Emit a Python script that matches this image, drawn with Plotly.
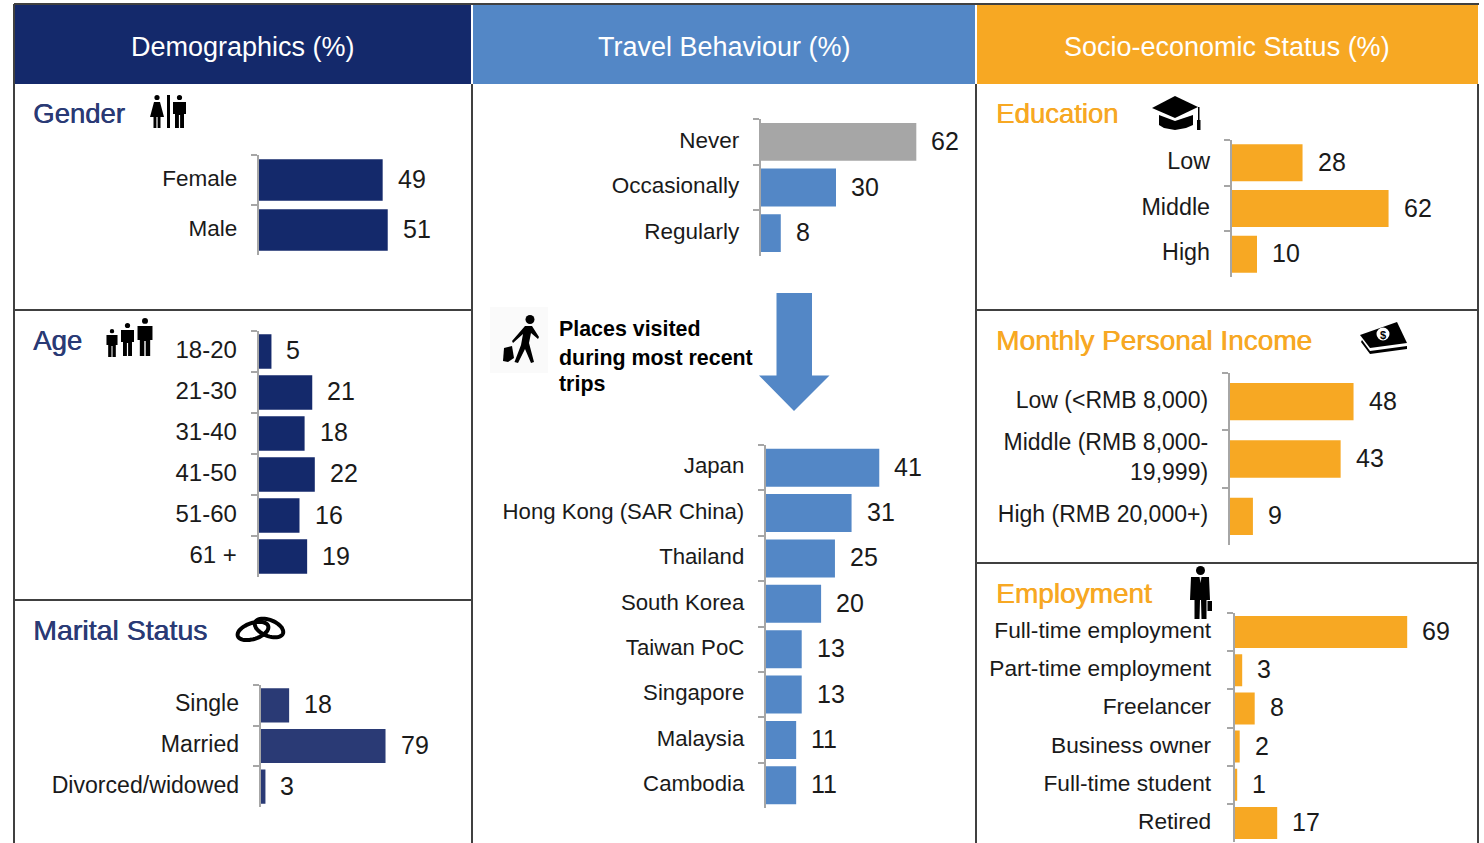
import math
import plotly.graph_objects as go

W, H = 1484, 843
FONT = "Liberation Sans"
NAVY = "#14296B"
NAVY2 = "#2A3A75"
BLUE = "#5387C6"
ORANGE = "#F7A823"
GREY = "#A6A6A6"
FRAME = "#404040"

GENDER_CATS = ["Female", "Male"]
GENDER_VALS = [49, 51]
AGE_CATS = ["18-20", "21-30", "31-40", "41-50", "51-60", "61 +"]
AGE_VALS = [5, 21, 18, 22, 16, 19]
MARITAL_CATS = ["Single", "Married", "Divorced/widowed"]
MARITAL_VALS = [18, 79, 3]
TRAVEL_CATS = ["Never", "Occasionally", "Regularly"]
TRAVEL_VALS = [62, 30, 8]
PLACE_CATS = ["Japan", "Hong Kong (SAR China)", "Thailand", "South Korea",
              "Taiwan PoC", "Singapore", "Malaysia", "Cambodia"]
PLACE_VALS = [41, 31, 25, 20, 13, 13, 11, 11]
EDU_CATS = ["Low", "Middle", "High"]
EDU_VALS = [28, 62, 10]
INCOME_CATS = ["Low (<RMB 8,000)", "Middle (RMB 8,000-<br>19,999)", "High (RMB 20,000+)"]
INCOME_VALS = [48, 43, 9]
JOB_CATS = ["Full-time employment", "Part-time employment", "Freelancer",
            "Business owner", "Full-time student", "Retired"]
JOB_VALS = [69, 3, 8, 2, 1, 17]

fig = go.Figure()
layout_axes = {}
annotations = []
shapes = []
n_axes = 1


def add_panel(cats, vals, color, x0, x1, ppu, top, bottom, bar=0.84, standoff=15, lab_size=22.5):
    """One bar panel, placed by pixel box, on its own pair of axes."""
    global n_axes
    n_axes += 1
    n = n_axes
    colors = color if isinstance(color, list) else [color] * len(cats)
    fig.add_trace(go.Bar(
        x=vals, y=cats, orientation="h", width=bar, marker=dict(color=colors, line=dict(width=0)),
        xaxis=f"x{n}", yaxis=f"y{n}", showlegend=False, hoverinfo="x+y",
    ))
    layout_axes[f"xaxis{n}"] = dict(
        domain=[x0 / W, x1 / W], range=[0, (x1 - x0) / ppu], visible=False,
        anchor=f"y{n}", fixedrange=True,
    )
    layout_axes[f"yaxis{n}"] = dict(
        domain=[1 - bottom / H, 1 - top / H], range=[len(cats) - 0.5, -0.5],
        type="category", categoryorder="array", categoryarray=cats,
        anchor=f"x{n}", tickson="boundaries", ticks="outside", ticklen=6,
        tickwidth=2, tickcolor=GREY, showline=True, linecolor=GREY, linewidth=2,
        showgrid=False, zeroline=False, ticklabelstandoff=standoff, ticklabelshift=2,
        tickfont=dict(family=FONT, size=lab_size, color="#1a1a1a"), fixedrange=True,
    )
    for c, v in zip(cats, vals):
        annotations.append(dict(
            x=v, y=c, xref=f"x{n}", yref=f"y{n}", text=str(v), showarrow=False,
            xanchor="left", xshift=13, yshift=1, font=dict(family=FONT, size=25, color="#1a1a1a"),
        ))


# overlay axes in pixel units, used only for frame, headers and icons
fig.add_trace(go.Scatter(x=[0], y=[0], mode="markers", marker=dict(opacity=0),
                         showlegend=False, hoverinfo="skip"))
layout_axes["xaxis"] = dict(domain=[0, 1], range=[0, W], visible=False, fixedrange=True)
layout_axes["yaxis"] = dict(domain=[0, 1], range=[H, 0], visible=False, fixedrange=True)


def rect(x0, y0, x1, y1, color):
    shapes.append(dict(type="rect", x0=x0, y0=y0, x1=x1, y1=y1, xref="x", yref="y",
                       fillcolor=color, line=dict(width=0), layer="above"))


def line(x0, y0, x1, y1, color=FRAME, width=2):
    shapes.append(dict(type="line", x0=x0, y0=y0, x1=x1, y1=y1, xref="x", yref="y",
                       line=dict(color=color, width=width), layer="above"))


def poly(points, color="black"):
    path = "M " + " L ".join(f"{x},{y}" for x, y in points) + " Z"
    shapes.append(dict(type="path", path=path, xref="x", yref="y",
                       fillcolor=color, line=dict(width=0), layer="above"))


def disc(cx, cy, r, color="black"):
    shapes.append(dict(type="circle", x0=cx - r, y0=cy - r, x1=cx + r, y1=cy + r,
                       xref="x", yref="y", fillcolor=color, line=dict(width=0), layer="above"))


def ring(cx, cy, rx, ry, angle, width):
    a = math.radians(angle)
    pts = []
    for i in range(49):
        t = 2 * math.pi * i / 48
        ex, ey = rx * math.cos(t), ry * math.sin(t)
        pts.append((cx + ex * math.cos(a) - ey * math.sin(a),
                    cy + ex * math.sin(a) + ey * math.cos(a)))
    path = "M " + " L ".join(f"{x:.1f},{y:.1f}" for x, y in pts) + " Z"
    shapes.append(dict(type="path", path=path, xref="x", yref="y",
                       line=dict(color="black", width=width), layer="above"))


def man(cx, top, h):
    u = h / 33
    disc(cx, top + 2.5 * u, 2.6 * u)
    poly([(cx - 6.5 * u, top + 7 * u), (cx + 6.5 * u, top + 7 * u), (cx + 6.5 * u, top + 19 * u),
          (cx + 4.5 * u, top + 19 * u), (cx + 4.5 * u, top + 33 * u), (cx + 0.6 * u, top + 33 * u),
          (cx + 0.6 * u, top + 20 * u), (cx - 0.6 * u, top + 20 * u), (cx - 0.6 * u, top + 33 * u),
          (cx - 4.5 * u, top + 33 * u), (cx - 4.5 * u, top + 19 * u), (cx - 6.5 * u, top + 19 * u)])


def woman(cx, top, h):
    u = h / 33
    disc(cx, top + 2.5 * u, 2.6 * u)
    poly([(cx - 3 * u, top + 7 * u), (cx + 3 * u, top + 7 * u), (cx + 7 * u, top + 22 * u),
          (cx + 3.5 * u, top + 22 * u), (cx + 3.5 * u, top + 33 * u), (cx + 0.6 * u, top + 33 * u),
          (cx + 0.6 * u, top + 22 * u), (cx - 0.6 * u, top + 22 * u), (cx - 0.6 * u, top + 33 * u),
          (cx - 3.5 * u, top + 33 * u), (cx - 3.5 * u, top + 22 * u), (cx - 7 * u, top + 22 * u)])


def label(x, y, text, size, color="#1a1a1a", xanchor="left", bold=False, heavy=False):
    font = dict(family=FONT, size=size, color=color)
    if heavy:
        font["shadow"] = f"0.6px 0 0 {color}"
    annotations.append(dict(x=x, y=y, xref="x", yref="y", text=f"<b>{text}</b>" if bold else text,
                            showarrow=False, xanchor=xanchor, yanchor="middle", font=font))


add_panel(GENDER_CATS, GENDER_VALS, NAVY, 258.7, 468, 2.53, 155, 255, bar=0.83)
add_panel(AGE_CATS, AGE_VALS, NAVY, 258.7, 468, 2.55, 331, 577, lab_size=24)
add_panel(MARITAL_CATS, MARITAL_VALS, NAVY2, 260.7, 468, 1.58, 685, 807, lab_size=23.1)
add_panel(TRAVEL_CATS, TRAVEL_VALS, [GREY, BLUE, BLUE], 760.7, 972, 2.51, 119, 256, bar=0.83)
add_panel(PLACE_CATS, PLACE_VALS, BLUE, 765.7, 972, 2.77, 445, 808, lab_size=22.2)
add_panel(EDU_CATS, EDU_VALS, ORANGE, 1231.7, 1475, 2.53, 140, 277, bar=0.81, lab_size=23.3)
add_panel(INCOME_CATS, INCOME_VALS, ORANGE, 1229.7, 1475, 2.58, 373, 545, bar=0.65, standoff=15, lab_size=23)
add_panel(JOB_CATS, JOB_VALS, ORANGE, 1234.7, 1475, 2.5, 613, 842, standoff=17, lab_size=22.7)

# headers
rect(14, 5, 471, 84, NAVY)
rect(473, 5, 975, 84, BLUE)
rect(977, 5, 1478, 84, ORANGE)
label(243, 47, "Demographics (%)", 27, "white", "center")
label(724, 47, "Travel Behaviour (%)", 27, "white", "center")
label(1227, 47, "Socio-economic Status (%)", 27, "white", "center")

# frame
line(14, 4, 1479, 4)
line(14, 4, 14, 843)
line(472, 84, 472, 843)
line(976, 84, 976, 843)
line(1478, 84, 1478, 843)
line(14, 310, 472, 310)
line(14, 600, 472, 600)
line(976, 310, 1478, 310)
line(976, 563, 1478, 563)

# section headings
label(31, 113, "Gender", 27.5, NAVY2, heavy=True)
label(31, 340, "Age", 27.5, NAVY2, heavy=True)
label(31, 630, "Marital Status", 28.5, NAVY2, heavy=True)
label(994, 113, "Education", 27.5, ORANGE, heavy=True)
label(994, 340, "Monthly Personal Income", 28, ORANGE, heavy=True)
label(994, 593, "Employment", 28, ORANGE, heavy=True)
label(557, 329, "Places visited", 21.4, "black", bold=True)
label(557, 358, "during most recent", 21.4, "black", bold=True)
label(557, 384, "trips", 21.4, "black", bold=True)

# arrow between the travel charts
poly([(776.5, 293), (812, 293), (812, 375.5), (829.5, 375.5), (794, 411), (759, 375.5), (776.5, 375.5)], BLUE)

# icons
woman(157, 95, 33)
rect(167, 95, 170, 128, "black")
man(179.5, 95, 33)
man(112, 329, 28)
man(127.5, 323, 33)
man(145, 318, 38)
ring(253, 631, 16, 8, -18, 4)
ring(269, 628, 15, 8, 22, 4)
# cap
poly([(1152, 108), (1175, 96), (1198, 107), (1175, 118)])
poly([(1159, 115), (1175, 121), (1193, 115), (1193, 125), (1186, 128), (1175, 130), (1164, 128), (1159, 125)])
rect(1198, 107, 1199.5, 122, "black")
rect(1197, 120, 1200.5, 130, "black")
# money
poly([(1360, 335), (1397, 322), (1407, 343), (1370, 348)])
poly([(1362, 340), (1370, 351), (1407, 346), (1407, 349), (1370, 354), (1361, 342)])
disc(1383, 334, 6.5, "white")
label(1383, 335, "$", 11, "black", "center", bold=True)
# businessman
disc(1200.5, 570.5, 4.5)
poly([(1191, 577), (1209, 577), (1210, 600), (1206.5, 600), (1206.5, 619), (1201.5, 619),
      (1201, 600), (1200, 600), (1199.5, 619), (1194.5, 619), (1194.5, 600), (1190, 600)])
poly([(1199.5, 577), (1201.5, 577), (1200.5, 583)], "#dddddd")
rect(1207.5, 601, 1212, 611, "black")
# traveller
rect(490, 307, 548, 373, "#FAFAFA")
disc(530, 319.5, 4.5)
poly([(525, 326), (532, 326), (539, 337), (538, 339), (531, 333), (529, 343), (534, 362),
      (531, 363), (525, 349), (518, 363), (514.5, 362), (521, 345), (523, 334), (513, 343), (512, 341)])
poly([(504, 348), (512, 346), (514, 358), (508, 362), (503, 361)])

fig.update_layout(
    width=W, height=H, margin=dict(l=0, r=0, t=0, b=0),
    paper_bgcolor="white", plot_bgcolor="rgba(0,0,0,0)", showlegend=False,
    shapes=shapes, annotations=annotations, **layout_axes,
)
fig.write_html("out.html", post_script="document.body.style.margin='0';document.body.style.overflow='hidden';",
               config=dict(displayModeBar=False))
